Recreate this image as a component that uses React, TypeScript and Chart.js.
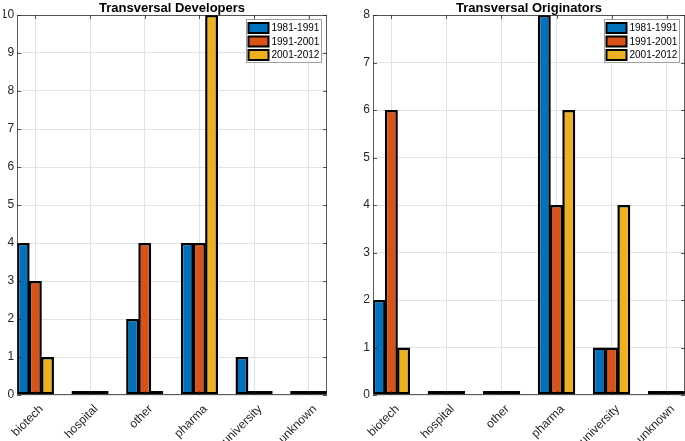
import React, { useEffect, useRef } from 'react';
import { Chart, registerables } from 'chart.js';

Chart.register(...registerables);

const categories = ['biotech', 'hospital', 'other', 'pharma', 'university', 'unknown'];
const periods = ['1981-1991', '1991-2001', '2001-2012'];

const developers1981 = [4, 0, 2, 4, 1, 0];
const developers1991 = [3, 0, 4, 4, 0, 0];
const developers2001 = [1, 0, 0, 10, 0, 0];

const originators1981 = [2, 0, 0, 8, 1, 0];
const originators1991 = [6, 0, 0, 4, 1, 0];
const originators2001 = [1, 0, 0, 6, 4, 0];

const developersYMax = 10;
const originatorsYMax = 8;

const colors = ['#0072BD', '#D95319', '#EDB120'];
const FONT = '"Liberation Sans", Arial, Helvetica, sans-serif';
const AXIS_COLOR = '#262626';

const framePlugin = {
  id: 'frame',
  afterDraw(chart: any) {
    const { ctx, chartArea: a, scales } = chart;
    ctx.save();
    ctx.strokeStyle = 'rgba(38,38,38,0.75)';
    ctx.lineWidth = 1;
    ctx.beginPath();
    scales.y.ticks.forEach((t: any) => {
      const y = Math.round(scales.y.getPixelForValue(t.value)) + 0.5;
      ctx.moveTo(a.left, y);
      ctx.lineTo(a.left + 4, y);
      ctx.moveTo(a.right, y);
      ctx.lineTo(a.right - 4, y);
    });
    scales.x.ticks.forEach((t: any) => {
      const x = Math.round(scales.x.getPixelForValue(t.value)) + 0.5;
      ctx.moveTo(x, a.bottom);
      ctx.lineTo(x, a.bottom - 4);
      ctx.moveTo(x, a.top);
      ctx.lineTo(x, a.top + 4);
    });
    ctx.stroke();
    ctx.strokeRect(Math.round(a.left) + 0.5, Math.round(a.top) + 0.5, Math.round(a.right - a.left) - 1, Math.round(a.bottom - a.top) - 1);
    ctx.restore();
  },
};

const boxLegendPlugin = {
  id: 'boxLegend',
  afterDraw(chart: any) {
    const { ctx, chartArea: a } = chart;
    const w = 75;
    const h = 43;
    const left = Math.round(a.right - 6 - w) + 0.5;
    const top = Math.round(a.top + 4) + 0.5;
    ctx.save();
    ctx.fillStyle = '#ffffff';
    ctx.fillRect(left, top, w, h);
    ctx.strokeStyle = '#a0a0a0';
    ctx.lineWidth = 1;
    ctx.strokeRect(left, top, w, h);
    chart.data.datasets.forEach((ds: any, i: number) => {
      const cy = top + 8.5 + i * 13.5;
      ctx.fillStyle = '#000';
      ctx.fillRect(left + 1, cy - 6, 22, 12);
      ctx.fillStyle = ds.backgroundColor;
      ctx.fillRect(left + 3, cy - 4, 18, 8);
      ctx.fillStyle = '#000';
      ctx.font = `10px ${FONT}`;
      ctx.textBaseline = 'middle';
      ctx.textAlign = 'left';
      ctx.fillText(ds.label, left + 25, cy + 0.5);
    });
    ctx.restore();
  },
};

type PanelProps = {
  title: string;
  series: number[][];
  yMax: number;
  left: number;
  width: number;
  yAxisWidth: number;
  padRight: number;
};

function Panel({ title, series, yMax, left, width, yAxisWidth, padRight }: PanelProps) {
  const ref = useRef<HTMLCanvasElement | null>(null);
  useEffect(() => {
    if (!ref.current) return;
    const chart = new Chart(ref.current, {
      type: 'bar',
      data: {
        datasets: series.map((vals, i) => ({
          label: periods[i],
          data: vals.map((v, j) => ({ x: j + 1, y: v })),
          backgroundColor: colors[i],
          borderColor: '#000000',
          borderWidth: 2.5,
          borderSkipped: false,
          minBarLength: 4,
          categoryPercentage: 2 / 3,
          barPercentage: 1.06,
        })),
      },
      options: {
        responsive: false,
        animation: false,
        events: [],
        layout: { padding: { top: 2, right: padRight, left: 0, bottom: 0 } },
        plugins: {
          legend: { display: false },
          tooltip: { enabled: false },
          title: {
            display: true,
            text: title,
            fullSize: false,
            color: '#000',
            font: { family: FONT, size: 13, weight: 'bold', lineHeight: 1.0 },
            padding: { top: 0, bottom: 0 },
          },
        },
        scales: {
          x: {
            type: 'linear',
            min: 2 / 3,
            max: 6 + 1 / 3,
            offset: false,
            grid: { color: '#e3e3e3', drawTicks: false, offset: false },
            border: { display: false },
            afterBuildTicks: (scale: any) => {
              scale.ticks = categories.map((_, i) => ({ value: i + 1 }));
            },
            afterFit: (scale: any) => {
              scale.height = 46;
            },
            ticks: {
              autoSkip: false,
              maxRotation: 45,
              minRotation: 45,
              padding: 7,
              labelOffset: 6,
              color: AXIS_COLOR,
              font: { family: FONT, size: 12 },
              callback: (v: any) => categories[Math.round(Number(v)) - 1] ?? '',
            },
          },
          y: {
            min: 0,
            max: yMax,
            grid: { color: '#e3e3e3', drawTicks: false },
            border: { display: false },
            afterFit: (scale: any) => {
              scale.width = yAxisWidth;
            },
            ticks: {
              stepSize: 1,
              padding: 3,
              color: AXIS_COLOR,
              font: { family: FONT, size: 12 },
            },
          },
        },
      } as any,
      plugins: [framePlugin, boxLegendPlugin],
    });
    return () => chart.destroy();
  }, []);
  return (
    <canvas
      ref={ref}
      width={width}
      height={441}
      style={{ position: 'absolute', left, top: 0, width, height: 441 }}
    />
  );
}

export default function App() {
  return (
    <div style={{ position: 'fixed', left: 0, top: 0, width: 685, height: 441, background: '#fff', overflow: 'hidden' }}>
      <Panel
        title="Transversal Developers"
        series={[developers1981, developers1991, developers2001]}
        yMax={developersYMax}
        left={0}
        width={345}
        yAxisWidth={14}
        padRight={18}
      />
      <Panel
        title="Transversal Originators"
        series={[originators1981, originators1991, originators2001]}
        yMax={originatorsYMax}
        left={345}
        width={340}
        yAxisWidth={28}
        padRight={0}
      />
    </div>
  );
}
